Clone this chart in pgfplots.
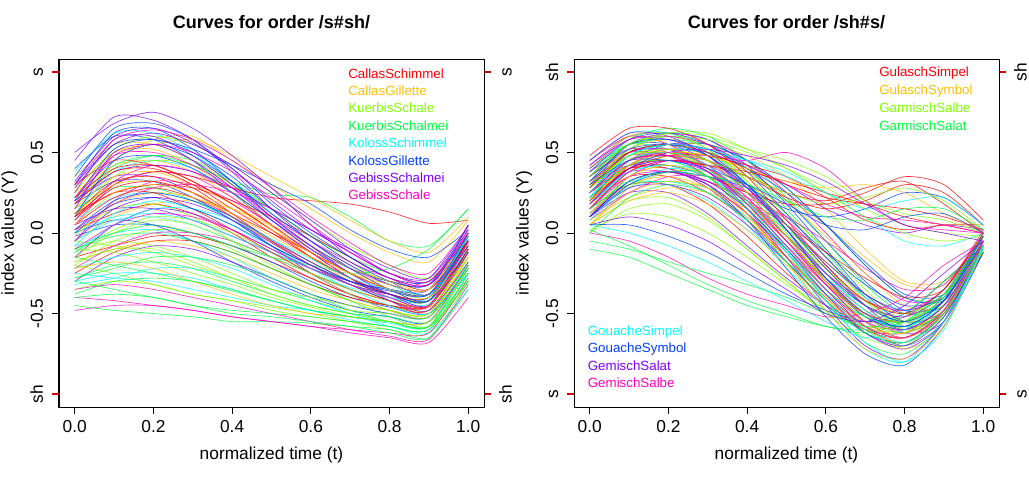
\documentclass[border=0pt]{standalone}
\usepackage{fontspec}
\setmainfont{Liberation Sans}
\usepackage{pgfplots}
\usepackage{pgfplotstable}
\pgfplotsset{compat=1.18}
\definecolor{rbA}{HTML}{FF0000}
\definecolor{rbB}{HTML}{FFBF00}
\definecolor{rbC}{HTML}{80FF00}
\definecolor{rbD}{HTML}{00FF40}
\definecolor{rbE}{HTML}{00FFFF}
\definecolor{rbF}{HTML}{0040FF}
\definecolor{rbG}{HTML}{8000FF}
\definecolor{rbH}{HTML}{FF00BF}
\definecolor{tkred}{HTML}{D00000}
\pgfplotscreateplotcyclelist{rbw}{draw=rbA\\draw=rbB\\draw=rbC\\draw=rbD\\draw=rbE\\draw=rbF\\draw=rbG\\draw=rbH\\}

\pgfplotstableread{
a0 a1 a2 a3 a4 a5 a6 a7 a8 a9 a10
0 0.1 0.2 0.3 0.4 0.5 0.6 0.7 0.8 0.9 1.0
0.02 0.12 0.18 0.12 0.00 -0.15 -0.28 -0.38 -0.45 -0.45 -0.10
0.25 0.42 0.45 0.38 0.22 0.05 -0.12 -0.25 -0.35 -0.38 -0.08
-0.20 -0.05 0.02 0.00 -0.10 -0.22 -0.32 -0.40 -0.45 -0.48 -0.20
0.18 0.40 0.48 0.45 0.32 0.15 -0.02 -0.15 -0.25 -0.30 0.00
-0.08 0.00 0.02 -0.05 -0.15 -0.28 -0.38 -0.45 -0.50 -0.52 -0.15
0.40 0.60 0.58 0.45 0.25 0.05 -0.12 -0.28 -0.38 -0.42 -0.10
-0.30 -0.15 -0.08 -0.10 -0.18 -0.28 -0.38 -0.45 -0.50 -0.52 -0.22
0.08 0.32 0.42 0.38 0.25 0.08 -0.08 -0.22 -0.32 -0.35 -0.05
-0.15 -0.08 -0.02 -0.02 -0.08 -0.18 -0.28 -0.38 -0.45 -0.48 -0.12
0.28 0.50 0.52 0.42 0.25 0.05 -0.15 -0.30 -0.42 -0.48 -0.15
0.00 0.15 0.18 0.10 -0.05 -0.20 -0.32 -0.42 -0.48 -0.50 -0.18
-0.38 -0.30 -0.28 -0.30 -0.36 -0.42 -0.48 -0.52 -0.55 -0.55 -0.20
0.12 0.38 0.45 0.40 0.25 0.08 -0.10 -0.25 -0.38 -0.42 -0.08
-0.02 0.05 0.05 0.00 -0.08 -0.18 -0.30 -0.40 -0.46 -0.50 -0.25
0.20 0.35 0.35 0.25 0.10 -0.08 -0.25 -0.38 -0.48 -0.52 -0.20
0.05 0.30 0.38 0.35 0.22 0.05 -0.12 -0.28 -0.42 -0.50 -0.22
-0.25 -0.12 -0.05 -0.05 -0.12 -0.22 -0.32 -0.40 -0.45 -0.45 -0.05
0.35 0.55 0.55 0.45 0.30 0.12 -0.05 -0.20 -0.30 -0.32 0.00
-0.12 0.02 0.10 0.08 0.00 -0.12 -0.25 -0.38 -0.48 -0.52 -0.22
0.15 0.28 0.28 0.20 0.08 -0.08 -0.22 -0.32 -0.38 -0.40 -0.05
-0.32 -0.28 -0.22 -0.22 -0.28 -0.35 -0.42 -0.50 -0.58 -0.62 -0.35
0.22 0.45 0.48 0.40 0.25 0.08 -0.10 -0.22 -0.30 -0.32 0.05
0.05 0.15 0.15 0.08 -0.02 -0.12 -0.22 -0.30 -0.35 -0.38 -0.05
-0.05 0.20 0.32 0.30 0.20 0.05 -0.12 -0.28 -0.40 -0.45 -0.12
0.30 0.45 0.42 0.32 0.18 0.02 -0.15 -0.28 -0.38 -0.42 -0.10
-0.18 -0.10 -0.05 -0.08 -0.15 -0.25 -0.35 -0.42 -0.48 -0.50 -0.15
0.10 0.35 0.45 0.42 0.30 0.15 -0.02 -0.18 -0.32 -0.38 -0.05
-0.10 -0.02 0.00 -0.05 -0.12 -0.22 -0.32 -0.42 -0.52 -0.58 -0.30
0.38 0.62 0.62 0.50 0.32 0.12 -0.05 -0.20 -0.32 -0.38 -0.08
0.00 0.08 0.05 -0.05 -0.18 -0.30 -0.40 -0.48 -0.52 -0.55 -0.20
0.20 0.38 0.42 0.38 0.28 0.15 0.02 -0.10 -0.22 -0.28 0.02
-0.22 -0.08 0.00 0.00 -0.05 -0.15 -0.25 -0.35 -0.42 -0.45 -0.10
0.12 0.25 0.30 0.28 0.20 0.10 -0.02 -0.15 -0.28 -0.35 -0.08
-0.05 0.10 0.18 0.20 0.15 0.05 -0.08 -0.22 -0.35 -0.42 -0.10
0.25 0.52 0.60 0.55 0.42 0.25 0.08 -0.08 -0.20 -0.28 -0.05
-0.28 -0.22 -0.15 -0.15 -0.20 -0.28 -0.38 -0.48 -0.55 -0.58 -0.30
0.08 0.22 0.25 0.20 0.08 -0.08 -0.22 -0.35 -0.45 -0.50 -0.25
0.18 0.32 0.32 0.22 0.08 -0.08 -0.20 -0.30 -0.35 -0.35 0.05
-0.15 0.05 0.15 0.12 0.02 -0.10 -0.22 -0.32 -0.38 -0.40 0.00
0.02 0.18 0.28 0.30 0.25 0.15 0.02 -0.12 -0.25 -0.32 -0.05
0.10 0.30 0.38 0.35 0.28 0.22 0.20 0.18 0.13 0.06 0.08
0.15 0.45 0.58 0.60 0.45 0.30 0.15 0.00 -0.12 -0.18 0.08
-0.35 -0.30 -0.32 -0.38 -0.42 -0.48 -0.52 -0.55 -0.58 -0.60 -0.30
0.20 0.42 0.48 0.42 0.32 0.24 0.22 0.10 -0.05 -0.08 0.15
-0.25 -0.28 -0.30 -0.35 -0.40 -0.45 -0.48 -0.52 -0.56 -0.58 -0.18
0.30 0.62 0.65 0.52 0.32 0.10 -0.08 -0.22 -0.30 -0.32 -0.02
0.45 0.72 0.70 0.58 0.38 0.15 -0.05 -0.20 -0.32 -0.35 -0.05
-0.48 -0.45 -0.45 -0.48 -0.52 -0.55 -0.58 -0.62 -0.65 -0.68 -0.40
0.05 0.22 0.28 0.22 0.10 -0.05 -0.18 -0.30 -0.38 -0.40 -0.08
0.22 0.50 0.55 0.58 0.48 0.35 0.22 0.08 -0.05 -0.12 0.10
-0.12 -0.05 -0.08 -0.15 -0.25 -0.35 -0.42 -0.48 -0.50 -0.52 -0.18
-0.10 0.00 0.05 0.00 -0.08 -0.15 -0.20 -0.25 -0.22 -0.10 0.15
-0.22 -0.15 -0.12 -0.15 -0.22 -0.32 -0.42 -0.50 -0.55 -0.58 -0.20
0.20 0.52 0.58 0.50 0.35 0.15 -0.02 -0.18 -0.30 -0.38 -0.06
0.50 0.68 0.75 0.65 0.48 0.28 0.05 -0.15 -0.28 -0.32 -0.05
-0.35 -0.32 -0.35 -0.40 -0.45 -0.50 -0.55 -0.60 -0.64 -0.66 -0.32
0.12 0.32 0.35 0.28 0.12 -0.05 -0.20 -0.32 -0.42 -0.46 -0.10
0.15 0.35 0.38 0.30 0.18 0.04 -0.10 -0.22 -0.30 -0.35 0.02
-0.20 -0.25 -0.32 -0.38 -0.42 -0.46 -0.50 -0.55 -0.60 -0.62 -0.25
-0.45 -0.48 -0.50 -0.52 -0.55 -0.55 -0.56 -0.58 -0.60 -0.65 -0.35
-0.30 -0.25 -0.25 -0.28 -0.35 -0.42 -0.48 -0.54 -0.58 -0.60 -0.25
0.35 0.65 0.68 0.58 0.40 0.18 0.00 -0.15 -0.28 -0.30 -0.02
0.28 0.55 0.62 0.55 0.42 0.25 0.08 -0.10 -0.25 -0.30 0.00
-0.40 -0.42 -0.45 -0.48 -0.52 -0.55 -0.58 -0.60 -0.62 -0.62 -0.28
0.18 0.38 0.40 0.30 0.15 0.00 -0.15 -0.28 -0.38 -0.42 -0.12
0.12 0.30 0.32 0.25 0.10 -0.06 -0.20 -0.32 -0.40 -0.42 -0.06
-0.10 -0.12 -0.18 -0.25 -0.32 -0.40 -0.46 -0.52 -0.55 -0.58 -0.20
-0.28 -0.20 -0.18 -0.22 -0.30 -0.38 -0.45 -0.50 -0.52 -0.55 -0.28
0.00 0.10 0.12 0.08 -0.02 -0.12 -0.22 -0.32 -0.40 -0.42 -0.08
0.30 0.55 0.58 0.52 0.42 0.30 0.18 0.02 -0.10 -0.15 0.02
0.25 0.58 0.60 0.48 0.30 0.10 -0.08 -0.25 -0.35 -0.38 -0.08
0.22 0.48 0.50 0.42 0.28 0.10 -0.05 -0.18 -0.28 -0.32 0.02
0.08 0.28 0.32 0.25 0.12 0.00 -0.12 -0.25 -0.35 -0.38 -0.05
-0.02 0.18 0.25 0.22 0.12 -0.02 -0.15 -0.25 -0.32 -0.35 -0.02
-0.18 -0.10 -0.10 -0.18 -0.28 -0.38 -0.45 -0.50 -0.55 -0.58 -0.30
-0.40 -0.38 -0.40 -0.45 -0.50 -0.52 -0.55 -0.58 -0.62 -0.65 -0.30
-0.05 0.08 0.10 0.05 -0.05 -0.15 -0.25 -0.34 -0.40 -0.40 -0.02
0.10 0.45 0.55 0.48 0.32 0.12 -0.05 -0.22 -0.35 -0.42 -0.10
0.32 0.60 0.65 0.56 0.40 0.20 0.02 -0.12 -0.25 -0.28 0.05
0.18 0.48 0.55 0.50 0.38 0.22 0.05 -0.12 -0.25 -0.30 0.00
0.22 0.40 0.42 0.32 0.18 0.02 -0.12 -0.25 -0.35 -0.38 -0.04
-0.22 -0.18 -0.22 -0.30 -0.38 -0.45 -0.50 -0.52 -0.55 -0.55 -0.22
-0.05 -0.08 -0.12 -0.20 -0.28 -0.35 -0.40 -0.45 -0.48 -0.50 -0.10
-0.30 -0.35 -0.40 -0.45 -0.48 -0.50 -0.52 -0.55 -0.58 -0.60 -0.25
-0.08 0.12 0.20 0.15 0.05 -0.10 -0.22 -0.32 -0.40 -0.44 -0.12
0.02 0.20 0.25 0.20 0.10 -0.04 -0.18 -0.30 -0.38 -0.42 -0.02
0.15 0.50 0.55 0.45 0.28 0.08 -0.10 -0.25 -0.38 -0.45 -0.12
0.30 0.58 0.64 0.58 0.45 0.28 0.10 -0.06 -0.20 -0.25 0.04
0.10 0.25 0.25 0.15 0.02 -0.12 -0.25 -0.35 -0.42 -0.45 -0.10
0.05 0.25 0.30 0.25 0.15 0.02 -0.12 -0.25 -0.35 -0.40 -0.15
-0.15 0.00 0.08 0.05 -0.05 -0.15 -0.25 -0.35 -0.42 -0.45 -0.15
-0.15 -0.20 -0.25 -0.30 -0.35 -0.42 -0.48 -0.52 -0.55 -0.58 -0.22
-0.12 0.05 0.15 0.15 0.08 -0.04 -0.16 -0.28 -0.35 -0.38 -0.02
0.00 0.18 0.22 0.15 0.05 -0.08 -0.20 -0.30 -0.36 -0.38 0.00
-0.05 0.15 0.22 0.18 0.08 -0.06 -0.20 -0.32 -0.42 -0.48 -0.18
-0.10 0.05 0.12 0.10 0.02 -0.10 -0.22 -0.32 -0.40 -0.45 -0.05
}\rawL
\pgfplotstabletranspose{\TL}{\rawL}

\pgfplotstableread{
a0 a1 a2 a3 a4 a5 a6 a7 a8 a9 a10
0 0.1 0.2 0.3 0.4 0.5 0.6 0.7 0.8 0.9 1.0
0.15 0.30 0.30 0.18 -0.02 -0.25 -0.45 -0.60 -0.62 -0.45 -0.08
0.30 0.50 0.55 0.55 0.48 0.35 0.15 -0.10 -0.30 -0.30 -0.05
0.05 0.20 0.22 0.10 -0.10 -0.30 -0.48 -0.60 -0.60 -0.42 -0.05
0.38 0.55 0.58 0.55 0.45 0.28 0.05 -0.20 -0.40 -0.40 -0.10
0.20 0.40 0.42 0.30 0.05 -0.22 -0.45 -0.62 -0.68 -0.50 -0.05
0.25 0.48 0.55 0.52 0.40 0.20 -0.05 -0.30 -0.48 -0.45 -0.12
0.10 0.25 0.25 0.12 -0.08 -0.28 -0.45 -0.55 -0.52 -0.35 -0.02
0.42 0.60 0.62 0.58 0.45 0.25 0.00 -0.25 -0.42 -0.40 -0.08
0.18 0.35 0.35 0.25 0.08 -0.15 -0.38 -0.58 -0.70 -0.55 -0.10
0.28 0.45 0.50 0.48 0.38 0.22 0.05 -0.15 -0.32 -0.32 0.00
0.00 0.15 0.18 0.08 -0.10 -0.30 -0.50 -0.65 -0.70 -0.50 -0.10
0.35 0.58 0.65 0.60 0.45 0.22 -0.05 -0.32 -0.50 -0.45 -0.08
0.12 0.28 0.32 0.25 0.10 -0.08 -0.28 -0.45 -0.55 -0.45 -0.05
0.22 0.45 0.52 0.50 0.40 0.25 0.05 -0.18 -0.38 -0.38 -0.05
0.30 0.42 0.40 0.28 0.08 -0.18 -0.42 -0.62 -0.72 -0.55 -0.08
0.08 0.25 0.35 0.35 0.25 0.08 -0.15 -0.40 -0.58 -0.50 -0.10
0.45 0.60 0.55 0.40 0.18 -0.08 -0.32 -0.50 -0.55 -0.40 -0.02
0.15 0.38 0.48 0.48 0.38 0.20 -0.02 -0.25 -0.45 -0.45 -0.10
0.02 0.12 0.10 0.00 -0.15 -0.32 -0.48 -0.58 -0.58 -0.40 -0.05
0.28 0.52 0.60 0.55 0.40 0.15 -0.12 -0.40 -0.58 -0.50 -0.08
0.20 0.32 0.30 0.20 0.02 -0.18 -0.38 -0.52 -0.58 -0.45 -0.05
0.32 0.50 0.52 0.45 0.30 0.10 -0.12 -0.32 -0.45 -0.40 -0.05
0.10 0.35 0.45 0.42 0.28 0.05 -0.20 -0.45 -0.62 -0.55 -0.12
0.38 0.52 0.50 0.38 0.18 -0.05 -0.28 -0.48 -0.60 -0.48 -0.08
0.25 0.40 0.40 0.32 0.20 0.05 -0.12 -0.28 -0.40 -0.35 -0.02
0.15 0.42 0.52 0.48 0.30 0.02 -0.30 -0.58 -0.72 -0.58 -0.10
0.05 0.28 0.38 0.38 0.30 0.12 -0.10 -0.35 -0.55 -0.50 -0.12
0.40 0.55 0.52 0.40 0.20 -0.02 -0.25 -0.45 -0.55 -0.42 -0.05
0.18 0.38 0.42 0.38 0.25 0.05 -0.18 -0.40 -0.55 -0.48 -0.08
0.30 0.55 0.62 0.58 0.42 0.18 -0.10 -0.38 -0.55 -0.48 -0.05
0.12 0.32 0.38 0.30 0.12 -0.12 -0.38 -0.58 -0.65 -0.48 -0.05
0.22 0.38 0.38 0.32 0.22 0.10 -0.05 -0.22 -0.35 -0.32 -0.02
0.35 0.50 0.48 0.35 0.12 -0.15 -0.40 -0.60 -0.65 -0.48 -0.05
0.08 0.22 0.28 0.25 0.15 -0.02 -0.22 -0.42 -0.55 -0.48 -0.10
0.28 0.48 0.55 0.50 0.35 0.12 -0.15 -0.42 -0.60 -0.52 -0.08
0.15 0.30 0.32 0.28 0.18 0.02 -0.18 -0.38 -0.50 -0.42 0.00
0.45 0.62 0.62 0.52 0.30 0.02 -0.28 -0.52 -0.62 -0.48 -0.05
0.20 0.45 0.55 0.55 0.45 0.28 0.05 -0.20 -0.40 -0.42 -0.12
0.10 0.28 0.30 0.22 0.05 -0.18 -0.42 -0.62 -0.68 -0.50 -0.08
0.32 0.48 0.48 0.40 0.25 0.05 -0.18 -0.38 -0.50 -0.42 -0.05
0.20 0.45 0.50 0.42 0.20 -0.05 -0.30 -0.50 -0.55 -0.40 -0.05
0.30 0.52 0.58 0.50 0.30 0.05 -0.22 -0.45 -0.52 -0.38 -0.02
0.10 0.35 0.42 0.35 0.15 -0.10 -0.35 -0.55 -0.62 -0.45 -0.08
0.25 0.50 0.55 0.48 0.28 0.00 -0.28 -0.50 -0.60 -0.48 -0.10
0.15 0.40 0.45 0.35 0.12 -0.18 -0.48 -0.72 -0.80 -0.55 -0.10
0.35 0.55 0.55 0.45 0.25 -0.02 -0.30 -0.52 -0.58 -0.42 0.00
0.30 0.50 0.55 0.52 0.42 0.30 0.15 0.05 0.00 0.05 0.02
0.00 -0.05 -0.15 -0.28 -0.38 -0.45 -0.52 -0.50 -0.40 -0.20 -0.05
0.15 0.38 0.45 0.42 0.35 0.25 0.20 0.28 0.32 0.18 0.00
0.05 0.25 0.32 0.28 0.12 -0.12 -0.38 -0.58 -0.65 -0.48 -0.10
0.40 0.60 0.62 0.52 0.32 0.05 -0.25 -0.48 -0.55 -0.40 -0.05
0.20 0.42 0.48 0.40 0.18 -0.12 -0.42 -0.68 -0.75 -0.55 -0.08
0.22 0.45 0.52 0.50 0.45 0.38 0.25 0.10 -0.05 -0.08 0.00
0.05 0.05 -0.02 -0.12 -0.25 -0.38 -0.48 -0.55 -0.50 -0.30 -0.08
0.18 0.40 0.45 0.38 0.20 -0.05 -0.32 -0.55 -0.65 -0.50 -0.12
0.28 0.50 0.52 0.42 0.22 -0.02 -0.25 -0.42 -0.48 -0.35 0.02
0.25 0.45 0.48 0.45 0.35 0.22 0.15 0.20 0.30 0.25 0.05
0.12 0.30 0.35 0.28 0.10 -0.15 -0.40 -0.60 -0.68 -0.52 -0.05
0.35 0.55 0.60 0.58 0.50 0.40 0.28 0.15 0.05 0.00 -0.02
-0.10 -0.15 -0.25 -0.35 -0.45 -0.52 -0.58 -0.60 -0.50 -0.30 -0.10
0.22 0.48 0.55 0.48 0.28 0.02 -0.25 -0.48 -0.58 -0.45 -0.05
0.10 0.32 0.38 0.30 0.08 -0.22 -0.52 -0.75 -0.82 -0.58 -0.12
0.45 0.62 0.60 0.48 0.28 0.02 -0.25 -0.45 -0.52 -0.38 0.00
0.15 0.35 0.38 0.30 0.12 -0.10 -0.35 -0.55 -0.60 -0.45 -0.06
0.20 0.40 0.42 0.35 0.25 0.18 0.18 0.25 0.35 0.30 0.08
0.30 0.48 0.50 0.40 0.20 -0.05 -0.30 -0.50 -0.55 -0.40 -0.02
0.28 0.52 0.62 0.62 0.52 0.40 0.25 0.10 0.00 -0.05 -0.02
0.02 -0.08 -0.20 -0.32 -0.42 -0.50 -0.58 -0.62 -0.55 -0.35 -0.08
0.08 0.30 0.40 0.35 0.18 -0.08 -0.35 -0.58 -0.68 -0.52 -0.10
0.38 0.58 0.62 0.55 0.38 0.12 -0.15 -0.38 -0.48 -0.38 -0.02
0.25 0.45 0.48 0.38 0.15 -0.15 -0.45 -0.70 -0.78 -0.55 -0.05
0.18 0.42 0.50 0.45 0.28 0.02 -0.28 -0.52 -0.62 -0.48 -0.08
0.25 0.42 0.45 0.42 0.38 0.32 0.25 0.18 0.10 0.05 0.00
0.05 0.20 0.25 0.18 0.02 -0.20 -0.42 -0.58 -0.62 -0.45 -0.05
0.32 0.55 0.60 0.52 0.32 0.05 -0.22 -0.42 -0.50 -0.38 0.00
-0.05 -0.10 -0.18 -0.25 -0.32 -0.40 -0.50 -0.58 -0.55 -0.38 -0.12
0.20 0.38 0.42 0.35 0.15 -0.12 -0.38 -0.60 -0.70 -0.55 -0.10
0.10 0.30 0.38 0.35 0.28 0.15 0.10 0.15 0.25 0.22 0.05
0.42 0.58 0.58 0.48 0.25 -0.02 -0.30 -0.52 -0.60 -0.45 -0.05
0.15 0.38 0.45 0.40 0.22 -0.05 -0.32 -0.55 -0.65 -0.50 -0.08
0.20 0.40 0.48 0.48 0.42 0.35 0.22 0.08 0.02 0.05 0.05
0.12 0.35 0.42 0.35 0.12 -0.18 -0.48 -0.72 -0.78 -0.58 -0.10
0.28 0.48 0.52 0.45 0.25 -0.02 -0.30 -0.52 -0.62 -0.48 -0.05
0.22 0.42 0.45 0.35 0.15 -0.10 -0.35 -0.52 -0.55 -0.40 -0.02
0.05 0.00 -0.08 -0.18 -0.30 -0.42 -0.55 -0.65 -0.60 -0.40 -0.10
0.35 0.52 0.55 0.48 0.30 0.05 -0.22 -0.45 -0.55 -0.42 -0.05
0.10 0.32 0.38 0.32 0.15 -0.10 -0.38 -0.62 -0.70 -0.52 -0.08
0.25 0.45 0.50 0.48 0.45 0.50 0.40 0.20 0.05 0.02 0.00
0.48 0.65 0.65 0.55 0.35 0.08 -0.20 -0.42 -0.50 -0.35 0.00
0.18 0.45 0.52 0.45 0.25 -0.02 -0.30 -0.55 -0.65 -0.50 -0.08
0.30 0.48 0.50 0.45 0.35 0.25 0.18 0.22 0.28 0.20 0.02
0.00 0.22 0.30 0.25 0.08 -0.18 -0.42 -0.62 -0.68 -0.50 -0.08
0.22 0.45 0.50 0.42 0.20 -0.10 -0.42 -0.68 -0.80 -0.60 -0.08
0.32 0.55 0.58 0.50 0.30 0.02 -0.28 -0.50 -0.58 -0.42 -0.02
0.05 0.10 0.05 -0.05 -0.20 -0.35 -0.50 -0.55 -0.45 -0.25 -0.05
0.25 0.45 0.48 0.38 0.18 -0.08 -0.35 -0.58 -0.65 -0.48 -0.05
0.28 0.50 0.55 0.50 0.40 0.30 0.22 0.18 0.15 0.10 0.02
0.20 0.42 0.50 0.48 0.40 0.32 0.28 0.30 0.25 0.12 0.00
0.35 0.55 0.62 0.60 0.52 0.45 0.35 0.20 0.12 0.08 0.00
0.15 0.32 0.38 0.35 0.30 0.20 0.10 0.08 0.15 0.15 0.02
0.25 0.48 0.55 0.52 0.45 0.35 0.25 0.15 0.20 0.22 0.05
0.30 0.45 0.45 0.40 0.30 0.18 0.05 0.02 0.10 0.12 0.00
0.18 0.40 0.50 0.52 0.48 0.42 0.32 0.18 0.05 0.00 -0.05
0.40 0.58 0.60 0.55 0.42 0.30 0.18 0.10 0.08 0.05 0.00
}\rawR
\pgfplotstabletranspose{\TR}{\rawR}

\pgfplotsset{
  panel/.style={
    width=318.75pt, height=261pt, scale only axis, anchor=south west,
    xmin=-0.04, xmax=1.04, ymin=-1.08, ymax=1.08,
    axis line style={line width=0.75pt},
    tick align=outside, major tick length=5.25pt,
    tick style={black, line width=0.75pt},
    xtick={0,0.2,0.4,0.6,0.8,1}, xticklabels={0.0,0.2,0.4,0.6,0.8,1.0},
    ytick={-0.5,0,0.5}, yticklabels={-0.5,0.0,0.5},
    xtick pos=bottom, ytick pos=left,
    ticklabel style={font=\fontsize{13}{15}\selectfont, inner sep=0pt},
    xticklabel style={anchor=north},
    yticklabel style={rotate=90, anchor=base},
    xticklabel shift=4.5pt, yticklabel shift=6.75pt,
    label style={font=\fontsize{13}{15}\selectfont},
    xlabel={normalized time (t)},
    ylabel={index values (Y)},
    xlabel style={at={(axis description cs:0.5,-0.138)}, anchor=center},
    title style={at={(axis description cs:0.5,1.0833)}, anchor=center, font=\bfseries\fontsize{13.5}{16}\selectfont},
    cycle list name=rbw,
  },
  rside/.style={
    width=318.75pt, height=261pt, scale only axis, anchor=south west,
    xmin=-0.04, xmax=1.04, ymin=-1.08, ymax=1.08,
    hide x axis, axis line style={line width=0.75pt},
    tick align=outside, major tick length=5.25pt,
    tick style={tkred, line width=1.5pt},
    ytick={-1,1}, ytick pos=right, yticklabel pos=right,
    ticklabel style={font=\fontsize{13}{15}\selectfont, inner sep=0pt},
    yticklabel style={rotate=90, anchor=base},
    yticklabel shift=15.4pt,
  },
  crv/.style={no markers, smooth, tension=0.45, line width=0.5pt, opacity=0.8},
}
\tikzset{lg/.style={anchor=west, inner sep=0pt, font=\fontsize{10}{12}\selectfont}}

\begin{document}
\begin{tikzpicture}
\useasboundingbox (0,0) rectangle (771.75pt,360pt);
% left panel
\begin{axis}[panel, at={(44.25pt,54.75pt)},
  title={Curves for order /s\#sh/},
  ylabel style={at={(axis description cs:-0.1165,0.5)}, anchor=center},
  extra y ticks={-1,1}, extra y tick labels={sh,s},
  extra y tick style={tick style={tkred, line width=1.5pt}}]
\pgfplotsinvokeforeach{2,...,97}{\addplot+[crv] table[x index=1, y index=#1]{\TL};}
\node[lg, text=rbA] at (axis description cs:0.680,0.959) {CallasSchimmel};
\node[lg, text=rbB] at (axis description cs:0.680,0.909) {CallasGillette};
\node[lg, text=rbC] at (axis description cs:0.680,0.859) {KuerbisSchale};
\node[lg, text=rbD] at (axis description cs:0.680,0.809) {KuerbisSchalmei};
\node[lg, text=rbE] at (axis description cs:0.680,0.759) {KolossSchimmel};
\node[lg, text=rbF] at (axis description cs:0.680,0.709) {KolossGillette};
\node[lg, text=rbG] at (axis description cs:0.680,0.659) {GebissSchalmei};
\node[lg, text=rbH] at (axis description cs:0.680,0.609) {GebissSchale};
\end{axis}
\begin{axis}[rside, at={(44.25pt,54.75pt)}, yticklabels={sh,s}]
\end{axis}
% right panel
\begin{axis}[panel, at={(430.5pt,54.75pt)},
  title={Curves for order /sh\#s/},
  ylabel style={at={(axis description cs:-0.1176,0.5)}, anchor=center},
  extra y ticks={-1,1}, extra y tick labels={s,sh},
  extra y tick style={tick style={tkred, line width=1.5pt}}]
\pgfplotsinvokeforeach{2,...,105}{\addplot+[crv] table[x index=1, y index=#1]{\TR};}
\node[lg, text=rbA] at (axis description cs:0.7176,0.959) {GulaschSimpel};
\node[lg, text=rbB] at (axis description cs:0.7176,0.909) {GulaschSymbol};
\node[lg, text=rbC] at (axis description cs:0.7176,0.859) {GarmischSalbe};
\node[lg, text=rbD] at (axis description cs:0.7176,0.809) {GarmischSalat};
\node[lg, text=rbE] at (axis description cs:0.032,0.2155) {GouacheSimpel};
\node[lg, text=rbF] at (axis description cs:0.032,0.1667) {GouacheSymbol};
\node[lg, text=rbG] at (axis description cs:0.032,0.1178) {GemischSalat};
\node[lg, text=rbH] at (axis description cs:0.032,0.069) {GemischSalbe};
\end{axis}
\begin{axis}[rside, at={(430.5pt,54.75pt)}, yticklabels={s,sh}]
\end{axis}
\end{tikzpicture}
\end{document}
